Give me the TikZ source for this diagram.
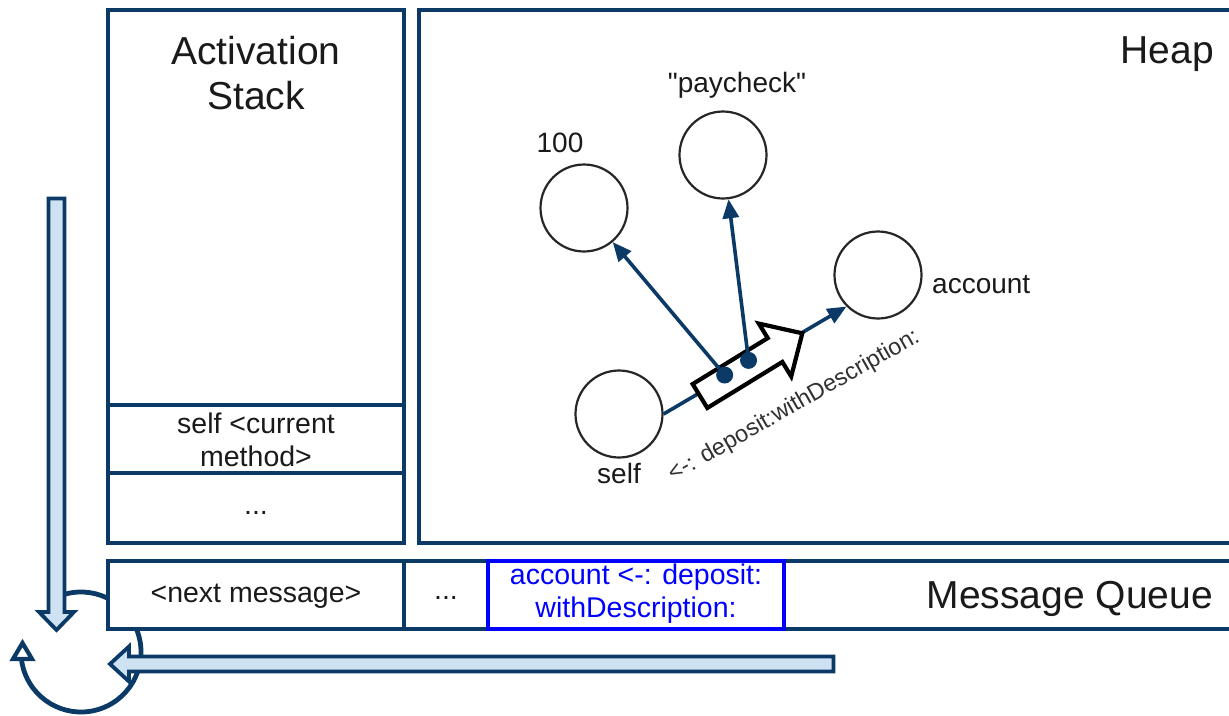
\documentclass[tikz,border=0pt]{standalone}
\usepackage{fontspec}
\setmainfont{Liberation Sans}
\usetikzlibrary{arrows.meta}
\definecolor{navy}{HTML}{0B3A66}
\definecolor{lightfill}{HTML}{CFE2F3}
\definecolor{pureblue}{HTML}{0000FF}
\definecolor{txt}{HTML}{1A1A1A}
\begin{document}
\begin{tikzpicture}[x=1pt,y=-1pt,
  frame/.style={draw=navy, line width=3.6pt, fill=white},
  divider/.style={draw=navy, line width=3.6pt},
  obj/.style={circle, draw=black!85, line width=2.2pt, minimum size=87pt, inner sep=0pt},
  lbl/.style={text=txt, font=\fontsize{28}{32}\selectfont, inner sep=0pt},
  small/.style={text=txt, font=\fontsize{28.5}{33}\selectfont, inner sep=0pt, align=center},
  big/.style={text=txt, font=\fontsize{39}{45}\selectfont, inner sep=0pt, align=center},
  ref/.style={draw=navy, line width=3.6pt, -{Triangle[length=19pt,width=16pt]}},
  fat/.style={draw=navy, fill=lightfill, line width=3.8pt, line join=miter},
  dotstyle/.style={circle, fill=navy, minimum size=17pt, inner sep=0pt},
  msgarrow/.style={draw=black, line width=4.2pt, fill=white, line join=miter},
  cyclehead/.style={draw=navy, fill=white, line width=4.2pt, line join=miter},
]
\useasboundingbox (0,0) rectangle (1229,715);
\clip (0,0) rectangle (1229,715);

% cycle arc (behind everything)
\draw[navy, line width=4.8pt]
  (81,652) ++(-110:60) arc[start angle=-110, end angle=186, radius=60];
\draw[cyclehead] (22.5,643) -- (32,659) -- (13,659) -- cycle;

% activation stack
\draw[frame] (108,10) rectangle (404,543);
\draw[divider] (108,405) -- (404,405);
\draw[divider] (108,473) -- (404,473);
\node[big] (stacktitle) at (256,73.5) {Activation\\Stack};
\node[small] (curmeth) at (256,440) {self <current\\method>};
\node[small] (stackdots) at (256,513) {...};

% heap
\draw[frame] (419,10) rectangle (1250,543);
\node[big, anchor=base east] (heaptitle) at (1214,63) {Heap};

% message queue
\draw[frame] (108,561) rectangle (1250,629);
\draw[divider] (404,561) -- (404,629);
\draw[draw=pureblue, line width=3.2pt] (488,561) rectangle (784,629);
\node[small] (nextmsg) at (256,596) {<next message>};
\node[small] (qdots) at (446,598) {...};
\node[small, text=pureblue] (curmsg) at (636,594) {account <-: deposit:\\withDescription:};
\node[big, anchor=base east] (qtitle) at (1213,608) {Message Queue};

% heap objects
\node[obj] (c100) at (584,208) {};
\node[obj] (cpay) at (723,155) {};
\node[obj] (cacc) at (878,275) {};
\node[obj] (cself) at (619,414) {};
\node[lbl] (l100) at (560,143) {100};
\node[lbl] (lpay) at (737,85) {\textquotedbl paycheck\textquotedbl};
\node[lbl, anchor=west] (lacc) at (932,285) {account};
\node[lbl] (lself) at (619,473) {self};

% message send
\draw[ref] (cself.east) -- (cacc.south west);
\begin{scope}[shift={(700,396)}, rotate=31.5]
  \draw[msgarrow] (0,-14) -- (88,-14) -- (88,-31) -- (120,0) -- (88,31) -- (88,14) -- (0,14) -- cycle;
  \node[dotstyle] (d1) at (32,-5) {};
  \node[dotstyle] (d2) at (60,-5) {};
\end{scope}
\draw[ref] (d1) -- (c100);
\draw[ref] (d2) -- (cpay);
\node[text=txt!90, font=\fontsize{23.5}{28}\selectfont, inner sep=0pt, rotate=29.6] (sendlbl) at (794,406) {<-: deposit:withDescription:};

% big flow arrows
\draw[fat] (48.5,198.5) -- (64.5,198.5) -- (64.5,612) -- (74,612) -- (56.5,630)
  -- (39,612) -- (48.5,612) -- cycle;
\draw[fat] (833.5,656.5) -- (129,656.5) -- (129,646.5) -- (110,664) -- (129,681.5)
  -- (129,671.5) -- (833.5,671.5) -- cycle;
\end{tikzpicture}
\end{document}
